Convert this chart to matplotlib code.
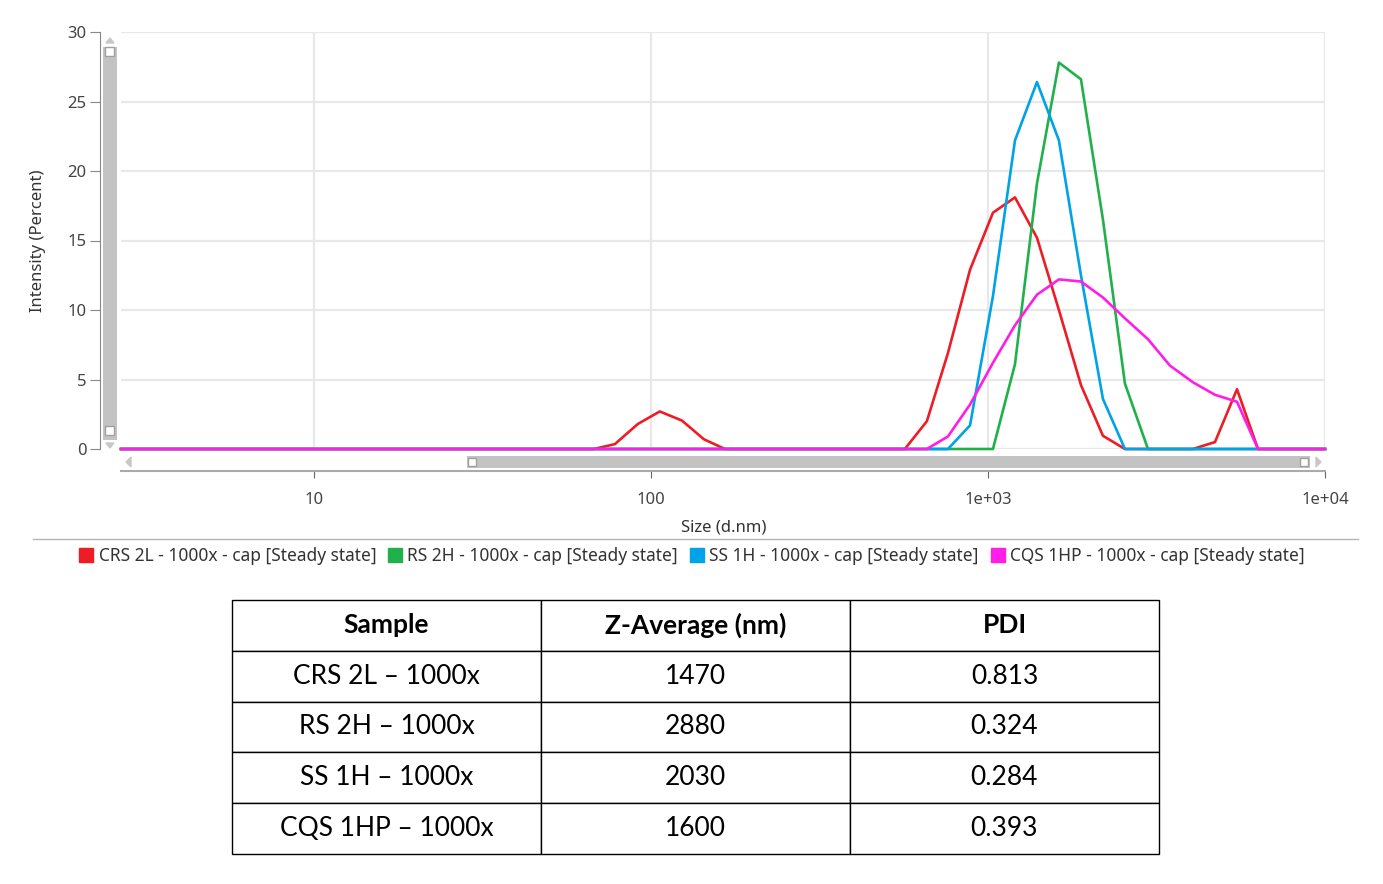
import matplotlib
matplotlib.use('Agg')
import matplotlib.pyplot as plt
from matplotlib.lines import Line2D
from matplotlib.patches import Rectangle, Polygon

# sizes (d.nm) of the size classes
size_nm = [2.68, 67.7, 78.2, 91.5, 106.3, 123.6, 143.7, 165.9,
           567, 659, 761, 885, 1035, 1203, 1398, 1624, 1888, 2194,
           2550, 2984, 3467, 4057, 4716, 5482, 6328, 10000]

# intensity (%) for each sample
crs_2l = [0, 0, 0.35, 1.8, 2.7, 2.05, 0.7, 0,
          0, 2.0, 6.9, 12.9, 17.0, 18.1, 15.2, 10.0, 4.6, 0.95,
          0, 0, 0, 0, 0.5, 4.3, 0, 0]
rs_2h = [0, 0, 0, 0, 0, 0, 0, 0,
         0, 0, 0, 0, 0, 6.1, 19.1, 27.8, 26.6, 16.5,
         4.7, 0, 0, 0, 0, 0, 0, 0]
ss_1h = [0, 0, 0, 0, 0, 0, 0, 0,
         0, 0, 0, 1.7, 11.0, 22.2, 26.4, 22.2, 12.5, 3.6,
         0, 0, 0, 0, 0, 0, 0, 0]
cqs_1hp = [0, 0, 0, 0, 0, 0, 0, 0,
           0, 0, 0.9, 3.2, 6.2, 8.9, 11.1, 12.2, 12.05, 10.9,
           9.4, 7.9, 6.0, 4.8, 3.9, 3.4, 0, 0]

series_names = ['CRS 2L - 1000x - cap [Steady state]',
                'RS 2H - 1000x - cap [Steady state]',
                'SS 1H - 1000x - cap [Steady state]',
                'CQS 1HP - 1000x - cap [Steady state]']
series_colors = ['#ee1c25', '#20b14b', '#00a2e8', '#ff1ee8']

x_ticks = [10, 100, 1000, 10000]
x_ticklabels = ['10', '100', '1e+03', '1e+04']
y_ticks = [0, 5, 10, 15, 20, 25, 30]

table_cols = ['Sample', 'Z-Average (nm)', 'PDI']
table_samples = ['CRS 2L \u2013 1000x', 'RS 2H \u2013 1000x',
                 'SS 1H \u2013 1000x', 'CQS 1HP \u2013 1000x']
z_average = ['1470', '2880', '2030', '1600']
pdi = ['0.813', '0.324', '0.284', '0.393']

W, H = 1383, 884
plt.rcParams['font.family'] = ['Noto Sans', 'DejaVu Sans']
fig = plt.figure(figsize=(W / 100, H / 100), dpi=100)


def fx(px):
    return px / W


def fy(py):
    return 1 - py / H


# main plot
ax = fig.add_axes([fx(121), fy(449), (1325 - 121) / W, (449 - 32) / H])
for vals, name, col in zip([crs_2l, rs_2h, ss_1h, cqs_1hp], series_names, series_colors):
    ax.plot(size_nm, vals, color=col, lw=1.9, label=name, clip_on=False, zorder=3)

ax.set_xscale('log')
ax.set_xlim(2.68, 10000)
ax.set_ylim(0, 30)
ax.set_xticks(x_ticks)
ax.set_xticklabels(x_ticklabels)
ax.xaxis.set_minor_locator(matplotlib.ticker.NullLocator())
ax.set_yticks(y_ticks)
ax.grid(True, color='#e8e8e8', lw=1.6, zorder=0)
ax.set_axisbelow(True)
for s in ['top', 'right']:
    ax.spines[s].set_visible(False)
ax.spines['left'].set_position(('outward', 15))
ax.spines['bottom'].set_position(('outward', 15.6))
ax.spines['left'].set_color('#888888')
ax.spines['bottom'].set_color('#aaaaaa')
ax.spines['bottom'].set_linewidth(1.5)
ax.tick_params(axis='y', length=7, color='#888888', labelcolor='#444444',
               labelsize=12, pad=3)
ax.tick_params(axis='x', length=5, color='#666666', labelcolor='#444444',
               labelsize=12, pad=10.5)
ax.set_ylabel('Intensity (Percent)', fontsize=12, color='#333333')
ax.yaxis.set_label_coords(-0.0623, 0.5)
fig.text(fx(724), fy(528), 'Size (d.nm)', ha='center', va='center',
         fontsize=12, color='#333333')

# vertical scroll bar
fig.add_artist(Rectangle((fx(103), fy(440)), 14 / W, (440 - 47) / H,
                         transform=fig.transFigure, color='#c3c3c3', lw=0))
for yy in [47, 426]:
    fig.add_artist(Rectangle((fx(105), fy(yy + 9)), 9 / W, 9 / H, transform=fig.transFigure,
                             facecolor='white', edgecolor='#a0a0a0', lw=1))
fig.add_artist(Polygon([(fx(106), fy(43)), (fx(114), fy(43)), (fx(110), fy(38))],
                       transform=fig.transFigure, color='#c8c8c8'))
fig.add_artist(Polygon([(fx(106), fy(443)), (fx(114), fy(443)), (fx(110), fy(448))],
                       transform=fig.transFigure, color='#c8c8c8'))

# horizontal scroll bar
fig.add_artist(Rectangle((fx(467), fy(468)), (1310 - 467) / W, 12 / H,
                         transform=fig.transFigure, color='#c3c3c3', lw=0))
for xx in [468, 1300]:
    fig.add_artist(Rectangle((fx(xx), fy(466)), 8 / W, 8 / H, transform=fig.transFigure,
                             facecolor='white', edgecolor='#a0a0a0', lw=1))
fig.add_artist(Polygon([(fx(131), fy(457)), (fx(131), fy(467)), (fx(126), fy(462))],
                       transform=fig.transFigure, color='#c8c8c8'))
fig.add_artist(Polygon([(fx(1316), fy(457)), (fx(1316), fy(467)), (fx(1321), fy(462))],
                       transform=fig.transFigure, color='#c8c8c8'))

# separator and legend
fig.add_artist(Line2D([fx(33), fx(1358)], [fy(539), fy(539)], color='#b4b4b4', lw=1))
handles = [Line2D([], [], marker='s', ls='none', markersize=10, color=c) for c in series_colors]
fig.legend(handles, series_names, loc='center', bbox_to_anchor=(fx(692), fy(556)),
           ncol=4, frameon=False, fontsize=12.5, handlelength=0.8, handletextpad=0.3,
           columnspacing=0.7, labelcolor='#333333')

# results table
tab = fig.add_axes([fx(232), fy(854), (1159 - 232) / W, (854 - 600) / H])
tab.axis('off')
rows = [[s, z, p] for s, z, p in zip(table_samples, z_average, pdi)]
t = tab.table(cellText=rows, colLabels=table_cols, cellLoc='center', bbox=[0, 0, 1, 1])
t.auto_set_font_size(False)
for (r, c), cell in t.get_celld().items():
    cell.set_edgecolor('black')
    cell.set_linewidth(1)
    cell.get_text().set_fontsize(19)
    cell.get_text().set_fontfamily(['Lato', 'DejaVu Sans'])
    if r == 0:
        cell.get_text().set_fontweight('bold')

fig.savefig('out.png', dpi=100)
